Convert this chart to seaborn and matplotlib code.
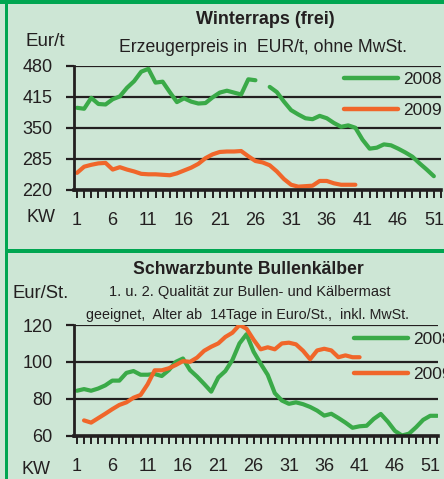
import numpy as np
import pandas as pd
import seaborn as sns
import matplotlib.pyplot as plt
from matplotlib.lines import Line2D
from matplotlib.patches import Rectangle
from matplotlib import font_manager

nan = np.nan
weeks = list(range(1, 53))

raps_2008 = [392, 390, 413, 400, 399, 410, 416, 434, 448, 468,
             474, 445, 447, 425, 404, 412, 405, 401, 402, 414,
             424, 428, 424, 420, 452, 450, nan, 436, 425, 405,
             387, 378, 370, 368, 375, 370, 360, 352, 355, 350,
             325, 306, 308, 315, 313, 306, 298, 289, 275, 262,
             248, nan]
raps_2009 = [255, 268, 272, 275, 276, 262, 267, 262, 258, 253,
             252, 252, 251, 250, 254, 260, 266, 274, 286, 294,
             299, 300, 300, 301, 290, 280, 277, 271, 258, 242,
             230, 226, 227, 228, 238, 238, 233, 230, 230, 230] + [nan] * 12

kalb_2008 = [84.3, 85.2, 84.3, 85.5, 87.2, 89.8, 89.8, 94.0, 95.0, 93.0,
             93.0, 93.4, 92.3, 95.5, 100.0, 101.8, 95.5, 92.0, 88.0, 83.8,
             91.5, 95.0, 101.0, 110.0, 115.0, 105.5, 99.0, 92.9, 83.0, 79.0,
             77.2, 78.0, 77.0, 75.5, 73.5, 70.8, 71.8, 69.5, 67.0, 64.2,
             65.0, 65.3, 69.0, 71.7, 67.5, 62.5, 60.0, 61.0, 64.5, 68.5,
             70.7, 70.7]
kalb_2009 = [nan, 68.2, 67.0, 69.4, 71.8, 74.3, 76.6, 78.0, 80.5, 82.0,
             87.8, 95.4, 95.4, 96.5, 98.3, 100.4, 100.0, 102.3, 106.0, 108.2,
             110.0, 113.5, 115.8, 120.0, 118.0, 112.0, 106.8, 107.9, 106.8, 110.0,
             110.4, 109.5, 106.0, 101.4, 106.2, 107.1, 106.2, 102.5, 103.5, 102.5,
             102.5] + [nan] * 11

years = ["2008", "2009"]
raps_yticks = [220, 285, 350, 415, 480]
kalb_yticks = [60, 80, 100, 120]
xtick_labels = [1, 6, 11, 16, 21, 26, 31, 36, 41, 46, 51]

GREEN = "#3aaa48"
ORANGE = "#f0662a"
BG = "#cde6d5"
FRAME = "#00a651"
INK = "#231f20"

sns.set_theme(style="white")
avail = {f.name for f in font_manager.fontManager.ttflist}
narrow = "Liberation Sans Narrow" if "Liberation Sans Narrow" in avail else "Liberation Sans"
plt.rcParams["font.family"] = [narrow, "DejaVu Sans"]
plt.rcParams["text.color"] = INK


def long_df(a2008, a2009):
    rows = []
    for yr, vals in zip(years, [a2008, a2009]):
        arr = np.array(vals, dtype=float)
        seg = np.cumsum(np.isnan(arr))
        for w, v, s in zip(weeks, arr, seg):
            if not np.isnan(v):
                rows.append({"week": w, "value": v, "year": yr, "seg": f"{yr}-{s}"})
    return pd.DataFrame(rows)


W, H = 444, 479
fig = plt.figure(figsize=(W / 100, H / 100), dpi=100)
fig.patch.set_facecolor(BG)


def fx(px):
    return px / W


def fy(py):
    return 1 - py / H


def setup(ax, df, yticks, ylim, xlim, leg_anchor, leg_spacing):
    ax.set_facecolor(BG)
    sns.lineplot(data=df, x="week", y="value", hue="year", units="seg",
                 estimator=None, sort=False, palette=[GREEN, ORANGE],
                 hue_order=years, linewidth=3.0, ax=ax, legend=False)
    ax.set_xlim(*xlim)
    ax.set_ylim(*ylim)
    ax.set_yticks(yticks)
    ax.set_yticklabels([str(t) for t in yticks])
    ax.set_xticks(weeks)
    ax.set_xticklabels([str(w) if w in xtick_labels else "" for w in weeks])
    ax.set_xlabel("")
    ax.set_ylabel("")
    ax.grid(axis="y", color=INK, linewidth=1.6)
    ax.set_axisbelow(True)
    for s in ["top", "right"]:
        ax.spines[s].set_visible(False)
    ax.spines["left"].set_color(INK)
    ax.spines["left"].set_linewidth(2.0)
    ax.spines["bottom"].set_color(INK)
    ax.spines["bottom"].set_linewidth(2.6)
    ax.tick_params(axis="y", direction="out", length=6, width=1.6, color=INK,
                   pad=9.5, labelsize=13, labelcolor=INK, left=True)
    ax.tick_params(axis="x", direction="out", length=6, width=1.4, color=INK,
                   pad=10, labelsize=13, labelcolor=INK, bottom=True)
    handles = [Line2D([], [], color=GREEN, lw=3.2), Line2D([], [], color=ORANGE, lw=3.2)]
    ax.legend(handles, years, loc="upper left", bbox_to_anchor=leg_anchor,
              frameon=False, fontsize=12.5, handlelength=3.1, handletextpad=0.3,
              borderpad=0, borderaxespad=0, labelspacing=leg_spacing)


# top panel
ax1 = fig.add_axes([fx(74), fy(189.5), fx(441) - fx(74), fy(66) - fy(189.5)])
setup(ax1, long_df(raps_2008, raps_2009), raps_yticks, (220, 480), (0.58, 51.8),
      (0.736, 0.949), 0.89)

# bottom panel
ax2 = fig.add_axes([fx(74), fy(435.5), fx(438) - fx(74), fy(325) - fy(435.5)])
setup(ax2, long_df(kalb_2008, kalb_2009), kalb_yticks, (60, 120), (0.58, 52.1),
      (0.769, 0.934), 1.12)

# texts
fig.text(fx(265), fy(20), "Winterraps (frei)", ha="center", va="center",
         fontsize=13, fontweight="bold")
fig.text(fx(263), fy(47), "Erzeugerpreis in  EUR/t, ohne MwSt.", ha="center",
         va="center", fontsize=12.7)
fig.text(fx(25), fy(41), "Eur/t", ha="left", va="center", fontsize=13.5)
fig.text(fx(26), fy(218), "KW", ha="left", va="center", fontsize=13)

fig.text(fx(248), fy(270), "Schwarzbunte Bullenkälber", ha="center", va="center",
         fontsize=12.7, fontweight="bold")
fig.text(fx(250), fy(292), "1. u. 2. Qualität zur Bullen- und Kälbermast",
         ha="center", va="center", fontsize=10.5)
fig.text(fx(248), fy(315), "geeignet,  Alter ab  14Tage in Euro/St.,  inkl. MwSt.",
         ha="center", va="center", fontsize=10.3)
fig.text(fx(12), fy(293), "Eur/St.", ha="left", va="center", fontsize=13.3)
fig.text(fx(21), fy(470), "KW", ha="left", va="center", fontsize=13)

# frame
fig.add_artist(Rectangle((0, fy(4)), 1, fy(0) - fy(4), transform=fig.transFigure,
                         color=FRAME, lw=0, zorder=5))
fig.add_artist(Rectangle((fx(5), 0), fx(3), 1, transform=fig.transFigure,
                         color=FRAME, lw=0, zorder=5))
fig.add_artist(Rectangle((fx(5), fy(253)), 1, fy(249) - fy(253), transform=fig.transFigure,
                         color=FRAME, lw=0, zorder=5))

fig.savefig("out.png", dpi=100, facecolor=BG)
